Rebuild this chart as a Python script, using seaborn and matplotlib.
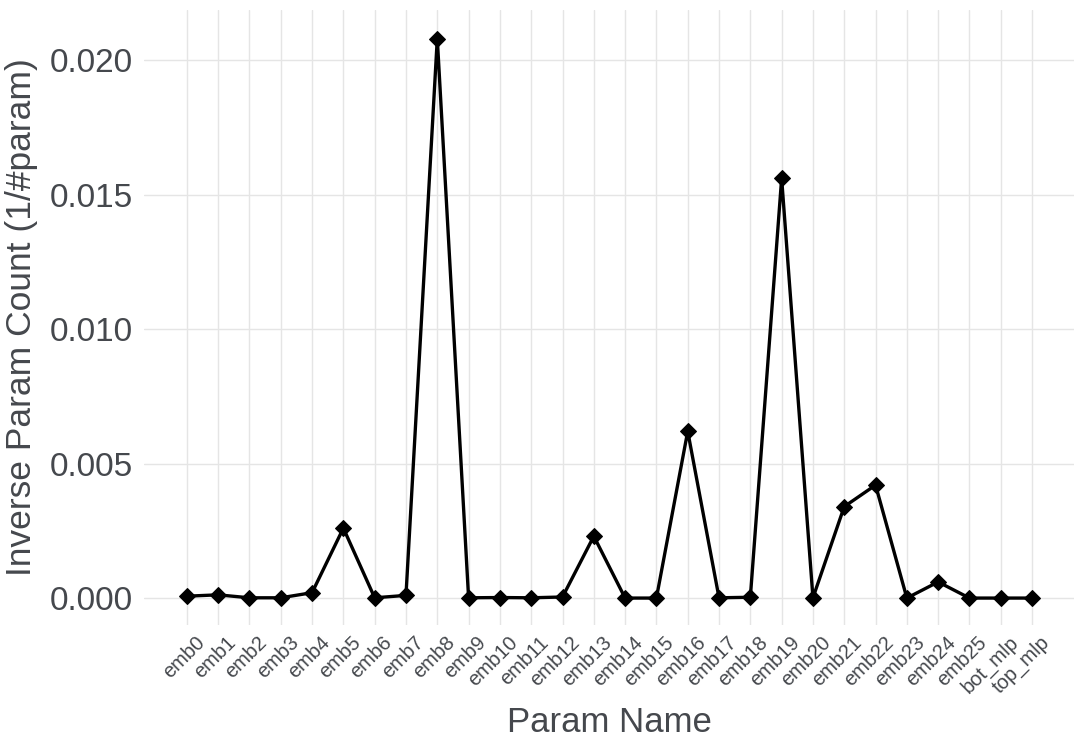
import seaborn as sns
import matplotlib.pyplot as plt
import matplotlib.transforms as mtransforms
import pandas as pd

# parameter names and their inverse counts
names = ['emb0', 'emb1', 'emb2', 'emb3', 'emb4', 'emb5', 'emb6', 'emb7', 'emb8', 'emb9',
         'emb10', 'emb11', 'emb12', 'emb13', 'emb14', 'emb15', 'emb16', 'emb17', 'emb18',
         'emb19', 'emb20', 'emb21', 'emb22', 'emb23', 'emb24', 'emb25', 'bot_mlp', 'top_mlp']
inv_count = [0.00007, 0.00012, 0.00001, 0.00001, 0.0002, 0.0026, 0.00001, 0.0001, 0.0208, 0.00001,
             0.00002, 0.00001, 0.00004, 0.0023, 0.0, 0.0, 0.0062, 0.00001, 0.00003,
             0.0156, 0.00001, 0.0034, 0.0042, 0.0, 0.0006, 0.0, 0.0, 0.0]
y_ticks = [0.0, 0.005, 0.010, 0.015, 0.020]

df = pd.DataFrame({'Param Name': names, 'inv': inv_count})

sns.set_theme(style='whitegrid')
plt.rcParams['font.family'] = ['Liberation Sans', 'DejaVu Sans']
grey = '#45484d'

fig = plt.figure(figsize=(10.84, 7.49), dpi=100)
ax = fig.add_axes([0.1328, 0.1656, 0.858, 0.821])

sns.lineplot(data=df, x='Param Name', y='inv', sort=False, color='black',
             linewidth=2.4, marker='D', markersize=8, markeredgecolor='black', ax=ax)

ax.set_xlim(-1.37, 28.34)
ax.set_ylim(-0.001, 0.02186)
ax.set_yticks(y_ticks)
ax.set_yticklabels([f'{v:.3f}' for v in y_ticks], fontsize=24, color=grey)
ax.set_xticks(range(len(names)))
ax.set_xticklabels(names, rotation=45, ha='right', va='top', rotation_mode='anchor',
                   fontsize=14.5, color=grey)
ax.tick_params(axis='both', length=0)
ax.tick_params(axis='y', pad=8)
ax.tick_params(axis='x', pad=0)

# nudge the angled labels a little right of and below each tick
shift = mtransforms.ScaledTranslation(0.08, -0.08, fig.dpi_scale_trans)
for lab in ax.get_xticklabels():
    lab.set_transform(lab.get_transform() + shift)

ax.grid(True, color='#e5e5e5', linewidth=1)
for s in ax.spines.values():
    s.set_visible(False)

ax.set_xlabel('Param Name', fontsize=25, color=grey)
ax.xaxis.set_label_coords(0.501, -0.131)
ax.set_ylabel('Inverse Param Count (1/#param)', fontsize=25.5, color=grey, labelpad=8)

fig.savefig('out.png', dpi=100)
